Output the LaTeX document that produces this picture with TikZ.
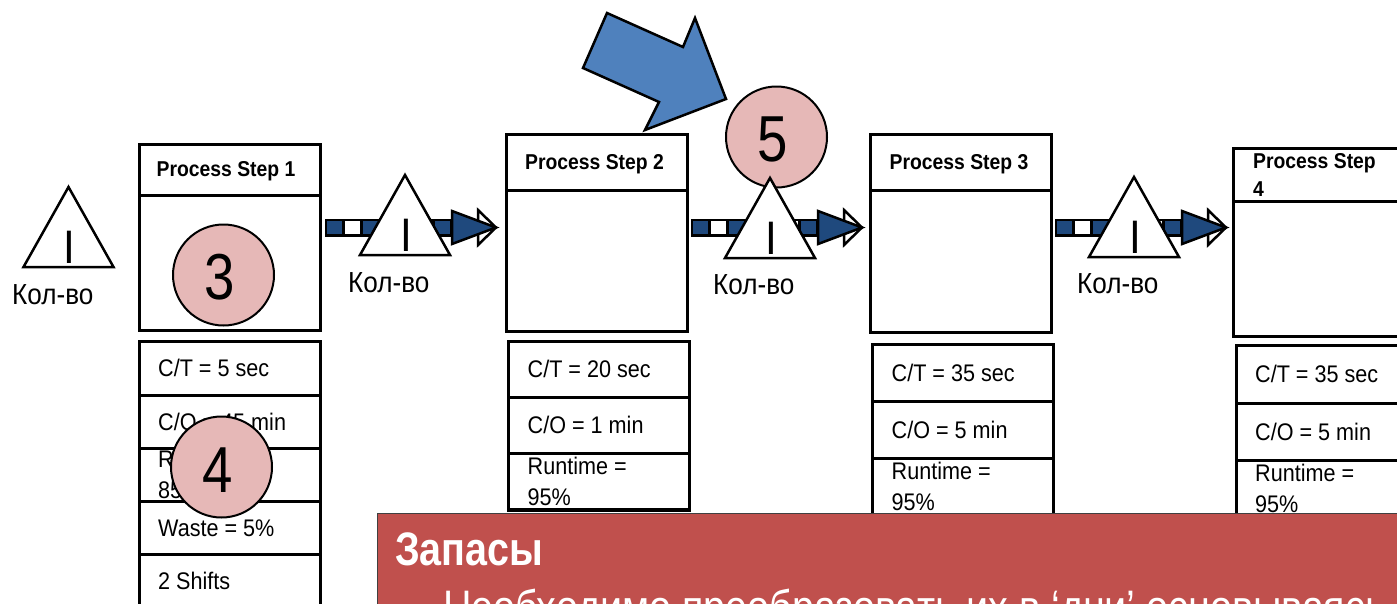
\documentclass[tikz,border=0pt]{standalone}
\usepackage{fontspec}
\setmainfont[FakeStretch=0.9]{Liberation Sans}
\newfontfamily\schmalfont[FakeStretch=0.84]{Liberation Sans}
\definecolor{dunkelblau}{HTML}{1F497D}
\definecolor{mittelblau}{HTML}{4F81BD}
\definecolor{rosa}{HTML}{E6B8B7}
\definecolor{ziegel}{HTML}{C0504D}
\begin{document}
\begin{tikzpicture}[x=1pt,y=-1pt,line join=miter,
  kasten/.style={draw,line width=3pt,fill=white,anchor=north west,inner sep=0pt,outer sep=0pt},
  kopf/.style={inner sep=0pt,font=\bfseries\fontsize{21.5}{28}\selectfont,align=left},
  wert/.style={anchor=west,inner sep=0pt,align=left,font=\fontsize{24}{31}\selectfont},
  menge/.style={anchor=west,inner sep=0pt,font=\fontsize{29}{32}\selectfont},
  strich/.style={inner sep=0pt,font=\fontsize{47}{50}\selectfont},
  kreis/.style={circle,draw,line width=2pt,fill=rosa,minimum size=101pt,inner sep=0pt},
  ziffer/.style={inner sep=0pt,font=\schmalfont\fontsize{65}{70}\selectfont}]
\def\l{366}
\def\dreieck#1#2#3{
\draw[line width=2.5pt,fill=white] (#2,#3) -- ++(-45,80) -- ++(90,0) -- cycle;
\node[strich] (#1) at (#2+1,#3+60) {I};
}
\def\pfeil#1{
\begin{scope}[xshift=#1pt]
\coordinate (von) at (325,227.5);
\coordinate (bis) at (452,227.5);
\draw[line width=18pt] (von) -- (bis);
\draw[line width=13pt,white,dash pattern=on 15pt off 21pt,dash phase=-20pt] (von) -- (bis);
\draw[line width=13pt,dunkelblau,dash pattern=on 15pt off 21pt,dash phase=-2pt] (von) -- (bis);
\draw[line width=2.5pt,fill=white] (478,210) -- (496,227.5) -- (478,245) -- cycle;
\draw[line width=2.5pt,fill=dunkelblau] (452,211) -- (496,227.5) -- (452,244) -- cycle;
\end{scope}
}
\def\zelle#1#2#3#4#5{
\node[kasten,minimum width=181pt,minimum height=#4pt] (#1) at (#2,#3) {};
\node[wert] at (#2+19,#3+#4/2) {#5};
}
\clip (0,0) rectangle (1397,603);
\fill[white] (0,0) rectangle (1397,603);
% linker Bestand
\dreieck{bestand0}{68.5}{187}
\node[menge] (menge0) at (12,295) {Кол-во};
% Prozess 1
\node[kasten,minimum width=181pt,minimum height=186.5pt] (step1) at (139,144) {};
\node[kasten,minimum width=181pt,minimum height=51pt] (kopf1) at (139,144) {};
\node[kopf] at (226,171.5) {Process Step 1};
\zelle{ct1}{139}{341.7}{53.3}{C/T = 5 sec}
\zelle{co1}{139}{395}{53}{C/O = 45 min}
\zelle{rt1}{139}{448}{53.7}{Runtime =\\85\%}
\zelle{ws1}{139}{501.7}{52.3}{Waste = 5\%}
\zelle{sh1}{139}{554}{54}{2 Shifts}
% Prozess 2
\node[kasten,minimum width=181.7pt,minimum height=197pt] (step2) at (506,134.3) {};
\node[kasten,minimum width=181.7pt,minimum height=55.7pt] (kopf2) at (506,134.3) {};
\node[kopf] at (594.5,164.5) {Process Step 2};
\zelle{ct2}{508.5}{341}{56}{C/T = 20 sec}
\zelle{co2}{508.5}{397}{56}{C/O = 1 min}
\zelle{rt2}{508.5}{453}{57}{Runtime =\\95\%}
\draw[line width=3.5pt] (rt2.south west) -- (rt2.south east);
% Prozess 3
\node[kasten,minimum width=180.5pt,minimum height=198pt] (step3) at (870.5,134) {};
\node[kasten,minimum width=180.5pt,minimum height=56pt] (kopf3) at (870.5,134) {};
\node[kopf] at (959,164.5) {Process Step 3};
\zelle{ct3}{872.5}{344}{57}{C/T = 35 sec}
\zelle{co3}{872.5}{401}{57}{C/O = 5 min}
\zelle{rt3}{872.5}{458}{57}{Runtime =\\95\%}
% Prozess 4
\node[kasten,minimum width=181pt,minimum height=188pt] (step4) at (1233.5,148) {};
\node[kasten,minimum width=181pt,minimum height=53pt] (kopf4) at (1233.5,148) {};
\node[kopf,anchor=west] at (1253,175) {Process Step\\4};
\zelle{ct4}{1236}{345}{58}{C/T = 35 sec}
\zelle{co4}{1236}{403}{57}{C/O = 5 min}
\zelle{rt4}{1236}{460}{57}{Runtime =\\95\%}
% Pfeile
\pfeil{0}
\pfeil{\l}
\pfeil{730}
% Bestaende
\dreieck{bestand1}{405}{175}
\dreieck{bestand3}{1134}{177}
\node[menge] (menge1) at (348,283) {Кол-во};
\node[menge] (menge2) at (713,285) {Кол-во};
\node[menge] (menge3) at (1077,284) {Кол-во};
% Markierungen
\node[kreis] (nr3) at (223.5,275) {};
\node[ziffer] at (220,277) {3};
\node[kreis] (nr4) at (221.5,467) {};
\node[ziffer] at (217.5,470) {4};
\node[kreis] (nr5) at (776.5,137) {};
\node[ziffer] at (772.5,139) {5};
\dreieck{bestand2}{770}{178}
\draw[line width=2.5pt,fill=mittelblau] (607,13) -- (683,47) -- (695,18) -- (726,99) -- (645,130) -- (659,102) -- (583,68) -- cycle;
% Textfeld
\node[draw=black!75,line width=1pt,fill=ziegel,anchor=north west,minimum width=1100pt,minimum height=120pt] (feld) at (377,513) {};
\node[anchor=west,inner sep=0pt,text=white,font=\schmalfont\bfseries\fontsize{47}{50}\selectfont] (titel) at (395,549) {Запасы};
\node[anchor=base west,inner sep=0pt,text=white,font=\schmalfont\fontsize{47}{50}\selectfont] (zeile) at (443,623) {Необходимо преобразовать их в ‘дни’ основываясь};
\end{tikzpicture}
\end{document}
